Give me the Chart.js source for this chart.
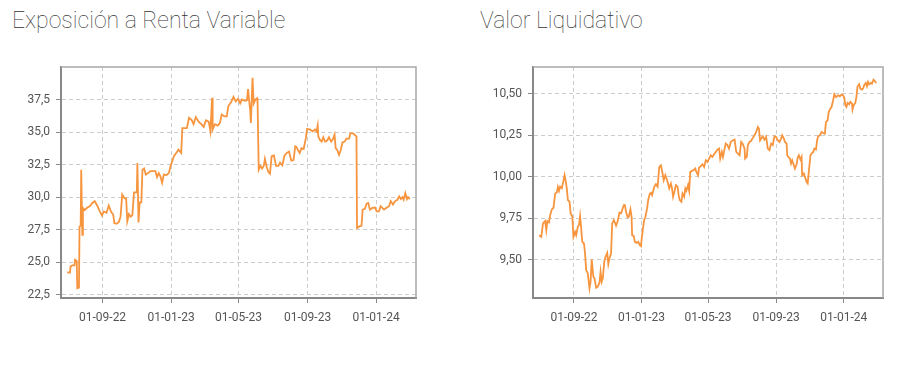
<!DOCTYPE html>
<html lang="es">
<head>
<meta charset="utf-8">
<title>Exposición a Renta Variable / Valor Liquidativo</title>
<script src="https://cdn.jsdelivr.net/npm/chart.js@4.4.1/dist/chart.umd.min.js"></script>
<style>
    body { margin: 0; background: #fff; width: 906px; height: 381px; overflow: hidden; position: relative; font-family: Roboto, sans-serif; }
    .titulo { position: absolute; top: 6px; font-weight: 100; font-size: 23px; line-height: 30px; color: #333; white-space: nowrap; }
    .caja { position: absolute; top: 0; width: 453px; height: 381px; }
</style>
</head>
<body>
<div class="titulo" style="left:12px">Exposición a Renta Variable</div>
<div class="titulo" style="left:480px">Valor Liquidativo</div>
<div class="caja" style="left:0"><canvas id="chartRV"></canvas></div>
<div class="caja" style="left:453px"><canvas id="chartVL"></canvas></div>
<script>
// Eje X: días desde 30-06-2022
const etiquetasX = ['01-09-22', '01-01-23', '01-05-23', '01-09-23', '01-01-24'];

// Exposición a Renta Variable (%)
const diasRV = [0, 5, 6, 9, 13, 14, 17, 18, 21, 22, 24, 25, 27, 28, 31, 36, 40, 45, 49, 54,
    58, 62, 65, 70, 74, 78, 82, 84, 88, 92, 95, 98, 102, 105, 107, 110, 113, 116, 119, 124,
    125, 127, 129, 132, 134, 137, 140, 144, 148, 153, 157, 160, 163, 166, 169, 172, 177, 181, 184, 190,
    196, 198, 203, 205, 213, 217, 222, 225, 229, 234, 240, 243, 247, 252, 255, 258, 259, 263, 268, 272,
    275, 280, 284, 287, 292, 296, 300, 304, 308, 311, 316, 320, 322, 324, 326, 327, 330, 332, 335, 338,
    339, 341, 344, 347, 350, 352, 355, 358, 361, 364, 368, 372, 376, 379, 383, 387, 391, 395, 399, 403,
    406, 408, 411, 414, 417, 421, 425, 427, 432, 437, 441, 444, 446, 447, 450, 453, 456, 459, 463, 466,
    470, 473, 476, 478, 481, 484, 487, 490, 494, 497, 502, 504, 509, 514, 515, 516, 520, 524, 526, 530,
    533, 536, 539, 543, 548, 551, 555, 558, 561, 564, 568, 573, 576, 580, 584, 588, 591, 594, 597, 599,
    602, 605, 607, 610];
const valoresRV = [24.22, 24.2, 24.68, 24.75, 24.75, 25.2, 25.1, 23.0, 23.05, 27.75, 27.8, 32.1, 27.1, 29.17, 29.0, 29.2, 29.3, 29.55, 29.7, 29.3,
    28.9, 28.58, 28.9, 28.8, 29.35, 28.9, 28.65, 28.0, 27.95, 28.1, 28.5, 30.2, 29.9, 29.9, 28.15, 28.7, 28.5, 28.6, 30.37, 30.37,
    32.63, 28.05, 29.6, 29.6, 32.1, 32.2, 31.73, 31.85, 32.0, 32.0, 32.0, 31.55, 31.85, 31.6, 31.1, 31.73, 31.7, 31.85, 32.37, 33.14,
    33.5, 33.65, 33.4, 35.3, 35.3, 36.1, 35.9, 35.6, 36.15, 35.8, 35.55, 35.4, 35.9, 35.8, 35.06, 37.63, 35.2, 35.6, 35.5, 35.7,
    36.35, 36.2, 36.2, 37.0, 37.3, 37.7, 37.35, 37.55, 37.2, 37.5, 37.4, 37.45, 38.3, 37.4, 36.6, 35.7, 39.17, 37.2, 37.5, 37.6,
    37.2, 32.1, 32.4, 32.2, 32.4, 32.94, 32.35, 31.95, 31.8, 33.14, 33.2, 32.4, 32.4, 32.65, 32.45, 33.2, 33.4, 33.5, 32.8, 32.85,
    33.9, 33.86, 33.6, 33.4, 33.77, 33.7, 34.55, 35.24, 35.2, 35.05, 35.2, 35.05, 35.5, 34.67, 34.4, 34.27, 34.6, 34.27, 34.35, 34.6,
    34.27, 34.45, 34.8, 33.77, 33.6, 33.25, 33.6, 34.2, 34.27, 34.5, 34.5, 34.9, 34.9, 34.7, 34.67, 27.63, 27.75, 27.8, 29.04, 29.1,
    29.5, 29.55, 29.04, 29.17, 29.2, 28.9, 28.9, 29.3, 29.17, 29.04, 29.17, 29.3, 29.7, 29.43, 29.7, 29.8, 30.06, 29.85, 30.0, 29.8,
    30.3, 29.85, 30.0, 29.85];
const ticksRV = [22.5, 25, 27.5, 30, 32.5, 35, 37.5];

// Valor Liquidativo
const diasVL = [0, 4, 7, 11, 13, 15, 18, 20, 23, 26, 29, 32, 34, 36, 38, 41, 44, 46, 48, 50,
    52, 55, 57, 60, 62, 65, 67, 70, 72, 74, 76, 78, 81, 83, 85, 88, 91, 93, 95, 98,
    100, 103, 106, 109, 111, 113, 115, 118, 120, 123, 125, 127, 130, 132, 135, 137, 139, 142, 145, 148,
    150, 153, 155, 157, 160, 162, 165, 167, 168, 171, 173, 176, 179, 182, 184, 185, 188, 190, 192, 195,
    197, 200, 202, 204, 208, 211, 214, 217, 220, 223, 225, 228, 230, 233, 235, 238, 240, 242, 245, 247,
    250, 252, 254, 257, 259, 262, 264, 266, 269, 271, 273, 276, 279, 282, 284, 287, 289, 292, 295, 298,
    301, 304, 307, 310, 313, 316, 319, 322, 325, 327, 330, 332, 335, 337, 340, 343, 346, 350, 353, 356,
    359, 362, 365, 368, 371, 372, 375, 377, 380, 383, 386, 389, 392, 395, 397, 399, 401, 404, 407, 410,
    413, 416, 419, 422, 425, 428, 431, 434, 437, 439, 442, 444, 447, 448, 451, 453, 455, 457, 460, 462,
    465, 467, 469, 472, 474, 475, 478, 480, 483, 485, 487, 490, 492, 495, 497, 500, 502, 504, 507, 510,
    513, 516, 518, 521, 523, 526, 528, 531, 533, 536, 538, 540, 543, 546, 549, 551, 553, 555, 557, 560,
    562, 565, 566, 568, 571, 573, 575, 578, 580, 583, 585, 587, 590, 592, 594, 596, 599, 601, 604, 606,
    609];
const valoresVL = [9.648, 9.638, 9.719, 9.733, 9.679, 9.733, 9.725, 9.769, 9.803, 9.813, 9.899, 9.905, 9.939, 9.915, 9.94, 9.93, 9.975, 10.009, 9.975, 9.93,
    9.859, 9.849, 9.779, 9.76, 9.638, 9.668, 9.648, 9.699, 9.709, 9.763, 9.689, 9.608, 9.598, 9.538, 9.438, 9.418, 9.328, 9.368, 9.502, 9.398,
    9.388, 9.332, 9.338, 9.362, 9.428, 9.368, 9.388, 9.494, 9.518, 9.542, 9.474, 9.508, 9.538, 9.719, 9.739, 9.723, 9.705, 9.733, 9.783, 9.779,
    9.799, 9.829, 9.829, 9.789, 9.755, 9.759, 9.803, 9.759, 9.648, 9.642, 9.608, 9.602, 9.608, 9.588, 9.582, 9.618, 9.699, 9.743, 9.759, 9.809,
    9.859, 9.899, 9.903, 9.889, 9.939, 9.955, 9.94, 10.059, 10.069, 10.019, 9.979, 10.009, 9.989, 9.959, 9.929, 9.959, 9.929, 9.879, 9.919, 9.949,
    9.94, 9.889, 9.859, 9.849, 9.899, 9.879, 9.929, 9.915, 9.949, 9.915, 10.029, 10.035, 10.039, 10.049, 10.029, 10.009, 10.055, 10.063, 10.075, 10.059,
    10.099, 10.089, 10.109, 10.129, 10.119, 10.135, 10.149, 10.163, 10.169, 10.109, 10.149, 10.119, 10.169, 10.2, 10.19, 10.169, 10.209, 10.219, 10.223, 10.149,
    10.139, 10.129, 10.209, 10.195, 10.169, 10.109, 10.119, 10.19, 10.209, 10.215, 10.235, 10.249, 10.269, 10.299, 10.289, 10.219, 10.229, 10.243, 10.223, 10.239,
    10.169, 10.159, 10.199, 10.19, 10.243, 10.239, 10.219, 10.209, 10.229, 10.249, 10.229, 10.209, 10.199, 10.129, 10.115, 10.109, 10.079, 10.099, 10.069, 10.049,
    10.075, 10.115, 10.129, 10.103, 10.119, 10.009, 10.019, 9.999, 9.969, 9.959, 10.029, 10.129, 10.139, 10.149, 10.169, 10.163, 10.219, 10.243, 10.249, 10.269,
    10.263, 10.259, 10.329, 10.339, 10.389, 10.409, 10.419, 10.46, 10.496, 10.48, 10.484, 10.49, 10.484, 10.494, 10.49, 10.476, 10.43, 10.42, 10.444, 10.436,
    10.45, 10.44, 10.404, 10.43, 10.444, 10.48, 10.544, 10.556, 10.53, 10.524, 10.53, 10.55, 10.564, 10.544, 10.57, 10.556, 10.564, 10.56, 10.584, 10.576,
    10.564];
const ticksVL = [9.5, 9.75, 10, 10.25, 10.5];

const BASE = Date.UTC(2022, 5, 30);
const posTicksX = etiquetasX.map(t => {
    const [d, m, a] = t.split('-').map(Number);
    return Math.round((Date.UTC(2000 + a, m - 1, d) - BASE) / 864e5);
});

const fuente = { family: 'Roboto', size: 12 };
const gris = '#555';

// marco superior y derecho del área de dibujo
const marco = {
    id: 'marco',
    beforeDatasetsDraw(chart) {
        const { ctx, chartArea: a } = chart;
        ctx.save();
        ctx.strokeStyle = '#a8a8a8';
        ctx.lineWidth = 1.5;
        ctx.beginPath();
        ctx.moveTo(a.left, a.top);
        ctx.lineTo(a.right, a.top);
        ctx.lineTo(a.right, a.bottom);
        ctx.stroke();
        ctx.restore();
    }
};

function crearGrafico(id, dias, valores, cfg) {
    const rejilla = { color: '#cccccc', lineWidth: 1, tickLength: 5, tickColor: '#888', tickWidth: 1, tickBorderDash: [] };
    const borde = { color: '#888', width: 2, dash: [4, 3] };
    const ctx = document.getElementById(id).getContext('2d');
    return new Chart(ctx, {
        type: 'line',
        data: {
            datasets: [{
                data: dias.map((d, i) => ({ x: d, y: valores[i] })),
                borderColor: '#F7953F', borderWidth: 1.8, pointRadius: 0, tension: 0, fill: false
            }]
        },
        options: {
            responsive: true, maintainAspectRatio: false, animation: false,
            layout: { padding: { top: 67, right: cfg.derecha, bottom: 53, left: 0 } },
            plugins: { legend: { display: false }, tooltip: { enabled: false } },
            scales: {
                x: {
                    type: 'linear', min: -11, max: 621,
                    afterBuildTicks: s => { s.ticks = posTicksX.map(v => ({ value: v })); },
                    afterFit: s => { s.height = 30; },
                    ticks: { callback: v => etiquetasX[posTicksX.indexOf(v)], color: gris, font: fuente, padding: 8, maxRotation: 0, autoSkip: false },
                    grid: rejilla, border: borde
                },
                y: {
                    min: cfg.min, max: cfg.max,
                    afterBuildTicks: s => { s.ticks = cfg.ticks.map(v => ({ value: v })); },
                    afterFit: s => { s.width = cfg.ancho; },
                    ticks: { callback: v => v.toFixed(cfg.dec).replace('.', ','), color: gris, font: fuente, padding: 6 },
                    grid: rejilla, border: borde
                }
            }
        },
        plugins: [marco]
    });
}

crearGrafico('chartRV', diasRV, valoresRV, { min: 22.25, max: 40.0, ticks: ticksRV, dec: 1, ancho: 61, derecha: 37 });
crearGrafico('chartVL', diasVL, valoresVL, { min: 9.27, max: 10.66, ticks: ticksVL, dec: 2, ancho: 80, derecha: 23 });
</script>
</body>
</html>
